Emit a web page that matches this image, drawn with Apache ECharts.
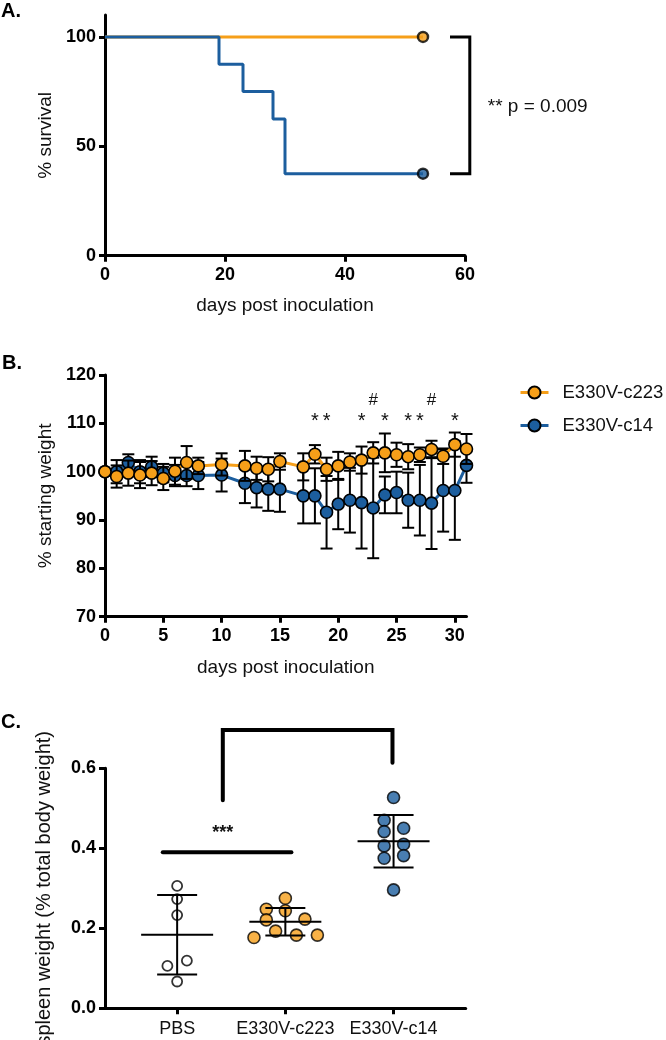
<!DOCTYPE html>
<html><head><meta charset="utf-8">
<script src="https://cdn.jsdelivr.net/npm/echarts@6/dist/echarts.min.js"></script>
<style>html,body{margin:0;padding:0;background:#fff}#c{width:666px;height:1040px}</style>
</head><body><div id="c"></div>
<script>
// ---------- Panel A: survival ----------
const survDaysC223 = [0, 53];
const survC223 = [100, 100];
const survDaysC14 = [0, 19, 23, 28, 30, 53];
const survC14 = [100, 87.5, 75, 62.5, 37.5, 37.5];
const survYTicks = [0, 50, 100];
const survBracketX = [57.5, 60.8, 60.8, 57.5];
const survBracketY = [100, 100, 37.5, 37.5];
const survPText = '** p = 0.009';
const survPPos = [63.8, 68];

// ---------- Panel B: weight ----------
const weightDays = [0,1,2,3,4,5,6,7,8,10,12,13,14,15,17,18,19,20,21,22,23,24,25,26,27,28,29,30,31];
const weightC223 = [100,99.0,99.7,99.3,99.7,98.6,100.1,101.9,101.2,101.5,101.2,100.7,100.5,102.1,101.0,103.6,100.5,101.2,102.0,102.4,103.9,103.9,103.5,103.1,103.5,104.6,103.2,105.6,104.7];
const sdC223 = [0,2.3,2.6,2.7,2.5,2.4,2.8,3.4,1.7,2.3,3.1,2.4,2.5,1.7,2.8,1.9,2.4,2.9,1.8,2.8,2.2,4.0,2.5,2.6,1.5,1.8,1.6,2.5,3.1];
const weightC14 = [100,100,101.9,100,101,99.7,99.2,99.2,99.2,99.3,97.6,96.7,96.4,96.4,95.0,95.0,91.6,93.3,94.1,93.6,92.5,95.2,95.7,94.1,94.1,93.5,96.1,96.1,101.3];
const sdC14 = [0,2.4,1.7,2.4,2.1,1.9,2.2,2.2,2.8,3.4,4.1,4.1,4.5,4.7,5.7,5.7,7.5,5.2,6.7,9.5,10.4,3.8,4.3,5.7,7.3,9.5,8.5,10.2,3.6];
const weightXTicks = [0,5,10,15,20,25,30];
const starDays = [18,19,22,24,26,27,30];
const starLevel = 110.3;
const hashDays = [23,28];
const hashLevel = 114.7;

// ---------- Panel C: spleen ----------
const spleenGroups = ['PBS','E330V-c223','E330V-c14'];
const spleenPBS = [0.306,0.273,0.233,0.106,0.119,0.067];
const jitterPBS = [0,0,0,-0.09,0.09,0];
const spleenC223 = [0.275,0.2475,0.244,0.221,0.223,0.193,0.183,0.183,0.177];
const jitterC223 = [0,-0.176,0,-0.176,0.181,-0.09,0.102,0.296,-0.29];
const spleenC14 = [0.527,0.47,0.4416,0.45,0.406,0.41,0.375,0.3816,0.296];
const jitterC14 = [0,-0.087,-0.087,0.093,-0.087,0.093,-0.087,0.093,0];
const sigLineX = [0.867, 2.056];
const sigLineY = [0.39, 0.39];
const sigStars = '***';
const sigStarsPos = [1.422, 0.438];
const sigBracketX = [1.422, 1.422, 2.99, 2.99];
const sigBracketY = [0.52, 0.696, 0.696, 0.614];

const FONT = "'Liberation Sans', Arial, Helvetica, sans-serif";
const ORANGE = '#F69F19', BLUE = '#1C5E9E';

function zip(xs, ys){ return xs.map((x,i)=>[x, ys[i]]); }
function flat(xs, ys){ const o=[]; xs.forEach((x,i)=>{o.push(x, ys[i]);}); return o; }
function mean(a){ return a.reduce((s,v)=>s+v,0)/a.length; }
function sd(a){ const m=mean(a); return Math.sqrt(a.reduce((s,v)=>s+(v-m)*(v-m),0)/(a.length-1)); }

function axis(extra){
  const base = {
    type:'value',
    axisLine:{show:true, onZero:false, lineStyle:{color:'#000', width:3}},
    axisTick:{show:true, length:6, lineStyle:{color:'#000', width:3}},
    axisLabel:{color:'#000', fontFamily:FONT, fontWeight:'bold', fontSize:18, margin:9},
    splitLine:{show:false},
    nameLocation:'middle',
    nameTextStyle:{color:'#111', fontFamily:FONT, fontSize:19}
  };
  const out = Object.assign({}, base, extra);
  ['axisLine','axisTick','axisLabel','nameTextStyle'].forEach(k=>{
    if (extra[k]) out[k] = Object.assign({}, base[k], extra[k]);
  });
  return out;
}

function errRender(params, api){
  const x = api.value(0), m = api.value(1), s = api.value(2);
  if (!s) return null;
  const top = api.coord([x, m+s]), bot = api.coord([x, m-s]);
  const cap = 6, style = {stroke:'#000', lineWidth:2};
  return {type:'group', children:[
    {type:'line', shape:{x1:top[0],y1:top[1],x2:bot[0],y2:bot[1]}, style},
    {type:'line', shape:{x1:top[0]-cap,y1:top[1],x2:top[0]+cap,y2:top[1]}, style},
    {type:'line', shape:{x1:bot[0]-cap,y1:bot[1],x2:bot[0]+cap,y2:bot[1]}, style}
  ]};
}
function textRender(txt, font, align){
  return function(params, api){
    const p = api.coord([api.value(0), api.value(1)]);
    return {type:'text', x:p[0], y:p[1], style:{text:txt, font:font, fill:'#111', align:align||'center', verticalAlign:'middle'}};
  };
}
function polyRender(width, cap){
  return function(params, api){
    const n = option.series[params.seriesIndex].data[params.dataIndex].length/2;
    const pts = [];
    for (let i=0;i<n;i++) pts.push(api.coord([api.value(2*i), api.value(2*i+1)]));
    return {type:'polyline', shape:{points:pts}, style:{stroke:'#000', lineWidth:width, fill:null, lineCap:cap, lineJoin:'miter'}};
  };
}
function meanSdRender(params, api){
  const x = api.value(0), m = api.value(1), s = api.value(2);
  const pm = api.coord([x, m]), pt = api.coord([x, m+s]), pb = api.coord([x, m-s]);
  const style = {stroke:'#000', lineWidth:2};
  return {type:'group', children:[
    {type:'line', shape:{x1:pm[0]-36,y1:pm[1],x2:pm[0]+36,y2:pm[1]}, style},
    {type:'line', shape:{x1:pt[0],y1:pt[1],x2:pb[0],y2:pb[1]}, style},
    {type:'line', shape:{x1:pt[0]-20,y1:pt[1],x2:pt[0]+20,y2:pt[1]}, style},
    {type:'line', shape:{x1:pb[0]-20,y1:pb[1],x2:pb[0]+20,y2:pb[1]}, style}
  ]};
}

const groupsData = [spleenPBS, spleenC223, spleenC14].map((a,i)=>[i+1, mean(a), sd(a)]);

const chart = echarts.init(document.getElementById('c'), null, {renderer:'canvas'});
const survBracket = flat(survBracketX, survBracketY);
const sigLine = flat(sigLineX, sigLineY);
const sigBracket = flat(sigBracketX, sigBracketY);
var option = {
  animation:false,
  backgroundColor:'#fff',
  textStyle:{fontFamily:FONT},
  grid:[
    {left:105, top:15, width:360, height:240.7, outerBoundsMode:'none'},
    {left:105, top:375, width:361.5, height:241.7, outerBoundsMode:'none'},
    {left:105, top:768.3, width:360.7, height:240, outerBoundsMode:'none'}
  ],
  xAxis:[
    axis({gridIndex:0, min:0, max:60, interval:20, name:'days post inoculation', nameGap:41,
      axisLabel:{margin:10}}),
    axis({gridIndex:1, min:0, max:31, name:'days post inoculation', nameGap:42,
      axisTick:{customValues:weightXTicks}, axisLabel:{customValues:weightXTicks, margin:10}}),
    axis({gridIndex:2, min:1/3, max:11/3,
      axisTick:{customValues:[1,2,3]},
      axisLabel:{customValues:[1,2,3], fontWeight:'normal', color:'#111', margin:12,
        formatter:v=>spleenGroups[Math.round(v)-1]}})
  ],
  yAxis:[
    axis({gridIndex:0, min:0, max:110, name:'% survival', nameGap:50,
      axisTick:{customValues:survYTicks}, axisLabel:{customValues:survYTicks}}),
    axis({gridIndex:1, min:70, max:120, interval:10, name:'% starting weight', nameGap:50}),
    axis({gridIndex:2, min:0, max:0.6, interval:0.2, name:'spleen weight (% total body weight)', nameGap:51,
      nameTextStyle:{fontSize:20},
      axisLabel:{formatter:v=>v.toFixed(1)}})
  ],
  legend:{
    data:['E330V-c223','E330V-c14'], orient:'vertical', left:514, top:378, itemWidth:28, itemHeight:15,
    itemGap:14, selectedMode:false,
    lineStyle:{width:3},
    textStyle:{fontFamily:FONT, fontSize:18.5, color:'#111', padding:[0,0,0,9]}
  },
  graphic:[
    {type:'text', left:1, top:1, style:{text:'A.', font:'bold 20px '+FONT, fill:'#000'}},
    {type:'text', left:2, top:353, style:{text:'B.', font:'bold 20px '+FONT, fill:'#000'}},
    {type:'text', left:1, top:712, style:{text:'C.', font:'bold 20px '+FONT, fill:'#000'}}
  ],
  series:[
    // Panel A
    {type:'line', name:'survA-c223', xAxisIndex:0, yAxisIndex:0, step:'end', symbol:'none',
      data:zip(survDaysC223, survC223), lineStyle:{color:ORANGE, width:3}, z:2},
    {type:'line', name:'survA-c14', xAxisIndex:0, yAxisIndex:0, step:'end', symbol:'none',
      data:zip(survDaysC14, survC14), lineStyle:{color:BLUE, width:3}, z:3},
    {type:'scatter', name:'survA-end-c223', xAxisIndex:0, yAxisIndex:0, symbolSize:10,
      data:[[survDaysC223[survDaysC223.length-1], survC223[survC223.length-1]]],
      itemStyle:{color:ORANGE, borderColor:'#000', borderWidth:2.5}, z:4},
    {type:'scatter', name:'survA-end-c14', xAxisIndex:0, yAxisIndex:0, symbolSize:10,
      data:[[survDaysC14[survDaysC14.length-1], survC14[survC14.length-1]]],
      itemStyle:{color:BLUE, borderColor:'#000', borderWidth:2.5}, z:4},
    {type:'custom', name:'survA-bracket', xAxisIndex:0, yAxisIndex:0, clip:false,
      data:[survBracket], encode:{x:[0,2,4,6], y:[1,3,5,7]}, renderItem:polyRender(3,'butt'), z:2},
    {type:'custom', name:'survA-p', xAxisIndex:0, yAxisIndex:0, clip:false,
      data:[survPPos], encode:{x:0, y:1}, renderItem:textRender(survPText, '19px '+FONT, 'left')},
    // Panel B
    {type:'custom', name:'errB-c14', xAxisIndex:1, yAxisIndex:1, renderItem:errRender, clip:false,
      data:weightDays.map((d,i)=>[d, weightC14[i], sdC14[i]]), encode:{x:0, y:1}, z:3},
    {type:'line', name:'E330V-c14', xAxisIndex:1, yAxisIndex:1, symbol:'circle', symbolSize:12,
      data:zip(weightDays, weightC14), lineStyle:{color:BLUE, width:3},
      itemStyle:{color:BLUE, borderColor:'#000', borderWidth:1.6}, z:4},
    {type:'custom', name:'errB-c223', xAxisIndex:1, yAxisIndex:1, renderItem:errRender, clip:false,
      data:weightDays.map((d,i)=>[d, weightC223[i], sdC223[i]]), encode:{x:0, y:1}, z:5},
    {type:'line', name:'E330V-c223', xAxisIndex:1, yAxisIndex:1, symbol:'circle', symbolSize:12,
      data:zip(weightDays, weightC223), lineStyle:{color:ORANGE, width:3},
      itemStyle:{color:ORANGE, borderColor:'#000', borderWidth:1.6}, z:6},
    {type:'custom', name:'starsB', xAxisIndex:1, yAxisIndex:1, clip:false,
      data:starDays.map(d=>[d, starLevel]), encode:{x:0, y:1},
      renderItem:textRender('*', '20px '+FONT), z:7},
    {type:'custom', name:'hashB', xAxisIndex:1, yAxisIndex:1, clip:false,
      data:hashDays.map(d=>[d, hashLevel]), encode:{x:0, y:1},
      renderItem:textRender('#', '17px '+FONT), z:7},
    // Panel C
    {type:'scatter', name:'C-PBS', xAxisIndex:2, yAxisIndex:2, symbolSize:10,
      data:spleenPBS.map((v,i)=>[1+jitterPBS[i], v]),
      itemStyle:{color:'#fff', borderColor:'#000', borderWidth:1.8}, z:3},
    {type:'scatter', name:'C-c223', xAxisIndex:2, yAxisIndex:2, symbolSize:12,
      data:spleenC223.map((v,i)=>[2+jitterC223[i], v]),
      itemStyle:{color:ORANGE, borderColor:'#000', borderWidth:1.6}, z:3},
    {type:'scatter', name:'C-c14', xAxisIndex:2, yAxisIndex:2, symbolSize:12,
      data:spleenC14.map((v,i)=>[3+jitterC14[i], v]),
      itemStyle:{color:BLUE, borderColor:'#000', borderWidth:1.6}, z:3},
    {type:'custom', name:'C-meanSD', xAxisIndex:2, yAxisIndex:2, clip:false,
      data:groupsData, encode:{x:0, y:1}, renderItem:meanSdRender, z:4},
    {type:'custom', name:'C-sigline', xAxisIndex:2, yAxisIndex:2, clip:false,
      data:[sigLine], encode:{x:[0,2], y:[1,3]}, renderItem:polyRender(4,'round'), z:4},
    {type:'custom', name:'C-bracket', xAxisIndex:2, yAxisIndex:2, clip:false,
      data:[sigBracket], encode:{x:[0,2,4,6], y:[1,3,5,7]}, renderItem:polyRender(4,'round'), z:4},
    {type:'custom', name:'C-stars', xAxisIndex:2, yAxisIndex:2, clip:false,
      data:[sigStarsPos], encode:{x:0, y:1},
      renderItem:textRender(sigStars, 'bold 18px '+FONT), z:5}
  ]
};
chart.setOption(option);
</script>
</body></html>
